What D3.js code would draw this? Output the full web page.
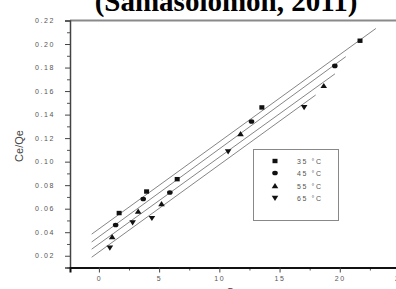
<!DOCTYPE html>
<meta charset="utf-8">
<html>
<head>
  <script src="https://d3js.org/d3.v7.min.js"></script>
  <style>
    body { margin: 0; background: #fff; }
    svg { display: block; }
  </style>
</head>
<body>
<div id="chart"></div>
<script>

// data (Ce, Ce/Qe) for each temperature
var series = ["35 °C", "45 °C", "55 °C", "65 °C"];
var symbols = ["square", "circle", "triangleUp", "triangleDown"];
var ce35 = [1.68, 3.96, 6.50, 13.53, 21.68];
var q35  = [0.0563, 0.0746, 0.0851, 0.1461, 0.2028];
var ce45 = [1.39, 3.68, 5.89, 12.67, 19.59];
var q45  = [0.0461, 0.0682, 0.0738, 0.1341, 0.1814];
var ce55 = [1.10, 3.26, 5.20, 11.76, 18.67];
var q55  = [0.0359, 0.0576, 0.0639, 0.1234, 0.1644];
var ce65 = [0.91, 2.80, 4.40, 10.73, 17.04];
var q65  = [0.0268, 0.0483, 0.0520, 0.1086, 0.1463];
var xTicks = [0, 5, 10, 15, 20, 25];
var yTicks = [0.02, 0.04, 0.06, 0.08, 0.10, 0.12, 0.14, 0.16, 0.18, 0.20, 0.22];

var allX = [ce35, ce45, ce55, ce65];
var allY = [q35, q45, q55, q65];

var W = 396, H = 289;
var svg = d3.select("#chart").append("svg")
  .attr("width", W)
  .attr("height", H);

var x = d3.scaleLinear().domain([-2.4, 25]).range([70, 400]);
var y = d3.scaleLinear().domain([0.01, 0.22]).range([267.5, 20.5]);

// title, cut off at the top
svg.append("text")
  .attr("x", 226)
  .attr("y", 11)
  .attr("text-anchor", "middle")
  .style("font-family", "Liberation Serif")
  .style("font-weight", "bold")
  .style("font-size", "29px")
  .text("(Samasolomon, 2011)");

// top frame line
svg.append("line")
  .attr("x1", 70).attr("x2", W)
  .attr("y1", 20.5).attr("y2", 20.5)
  .attr("stroke", "#8a8a8a")
  .attr("stroke-width", 2);

// minor ticks
var yMinor = d3.range(1, 22, 2).map(function(d) { return d / 100; });
svg.append("g")
  .attr("transform", "translate(70,0)")
  .call(d3.axisLeft(y).tickValues(yMinor).tickSize(3).tickFormat(""))
  .call(function(g) { g.select(".domain").remove(); })
  .selectAll("line").attr("stroke", "#555");

var xMinor = [-2.5, 2.5, 7.5, 12.5, 17.5, 22.5];
svg.append("g")
  .attr("transform", "translate(0,267.5)")
  .call(d3.axisBottom(x).tickValues(xMinor.filter(function(d) { return d > -2.4; })).tickSize(3).tickFormat(""))
  .call(function(g) { g.select(".domain").remove(); })
  .selectAll("line").attr("stroke", "#555");

// y axis
var yAxis = svg.append("g")
  .attr("transform", "translate(70,0)")
  .call(d3.axisLeft(y).tickValues(yTicks).tickSize(5).tickPadding(10).tickFormat(d3.format(".2f")));
yAxis.select(".domain").attr("stroke", "#444").attr("stroke-width", 1.5);
yAxis.selectAll("line").attr("stroke", "#444");
yAxis.selectAll("text")
  .style("font-family", "Liberation Sans")
  .style("font-size", "7px")
  .style("letter-spacing", "1.6px")
  .attr("fill", "#555");

// x axis
var xAxis = svg.append("g")
  .attr("transform", "translate(0,267.5)")
  .call(d3.axisBottom(x).tickValues(xTicks).tickSize(5).tickPadding(4).tickFormat(d3.format("d")));
xAxis.select(".domain").attr("stroke", "#111").attr("stroke-width", 2);
xAxis.selectAll("line").attr("stroke", "#444");
xAxis.selectAll("text")
  .style("font-family", "Liberation Sans")
  .style("font-size", "7px")
  .style("letter-spacing", "1.6px")
  .attr("fill", "#555");

// axis titles
svg.append("text")
  .attr("transform", "translate(23,146) rotate(-90)")
  .attr("text-anchor", "middle")
  .style("font-family", "Liberation Sans")
  .style("font-size", "11px")
  .attr("fill", "#444")
  .text("Ce/Qe");

svg.append("text")
  .attr("x", 233)
  .attr("y", 296)
  .attr("text-anchor", "middle")
  .style("font-family", "Liberation Sans")
  .style("font-size", "11px")
  .attr("fill", "#444")
  .text("Ce");

// linear fits
function fit(xs, ys) {
  var mx = d3.mean(xs), my = d3.mean(ys);
  var num = d3.sum(xs, function(v, i) { return (v - mx) * (ys[i] - my); });
  var den = d3.sum(xs, function(v) { return (v - mx) * (v - mx); });
  var b = num / den;
  return { b: b, a: my - b * mx };
}

var ends = [23.0, 20.5, 19.6, 18.0];
var line = d3.line().x(function(d) { return x(d[0]); }).y(function(d) { return y(d[1]); });

allX.forEach(function(xs, i) {
  var f = fit(xs, allY[i]);
  var pts = [[-0.6, f.a + f.b * -0.6], [ends[i], f.a + f.b * ends[i]]];
  svg.append("path")
    .attr("d", line(pts))
    .attr("fill", "none")
    .attr("stroke", "#777")
    .attr("stroke-width", 0.9);
});

// markers
function marker(g, type, cx, cy) {
  if (type === "square") {
    g.append("rect").attr("x", cx - 2.5).attr("y", cy - 2.2).attr("width", 5).attr("height", 4.4).attr("fill", "#111");
  } else if (type === "circle") {
    g.append("ellipse").attr("cx", cx).attr("cy", cy).attr("rx", 2.8).attr("ry", 2.3).attr("fill", "#111");
  } else if (type === "triangleUp") {
    g.append("path").attr("d", "M" + cx + "," + (cy - 3) + "L" + (cx + 3.3) + "," + (cy + 2.2) + "L" + (cx - 3.3) + "," + (cy + 2.2) + "Z").attr("fill", "#111");
  } else {
    g.append("path").attr("d", "M" + cx + "," + (cy + 3) + "L" + (cx + 3.3) + "," + (cy - 2.2) + "L" + (cx - 3.3) + "," + (cy - 2.2) + "Z").attr("fill", "#111");
  }
}

var marks = svg.append("g");
allX.forEach(function(xs, i) {
  xs.forEach(function(v, j) {
    marker(marks, symbols[i], x(v), y(allY[i][j]));
  });
});

// legend
var leg = svg.append("g");
leg.append("rect")
  .attr("x", 253.5).attr("y", 149.5)
  .attr("width", 85).attr("height", 71)
  .attr("fill", "#fff")
  .attr("stroke", "#888")
  .attr("stroke-width", 1);

var legY = [161, 173, 186, 198];
series.forEach(function(s, i) {
  marker(leg, symbols[i], 275, legY[i]);
  leg.append("text")
    .attr("x", 297)
    .attr("y", legY[i] + 2.5)
    .style("font-family", "Liberation Sans")
    .style("font-size", "7px")
    .style("letter-spacing", "1.6px")
    .attr("fill", "#555")
    .text(s);
});

</script>
</body>
</html>
